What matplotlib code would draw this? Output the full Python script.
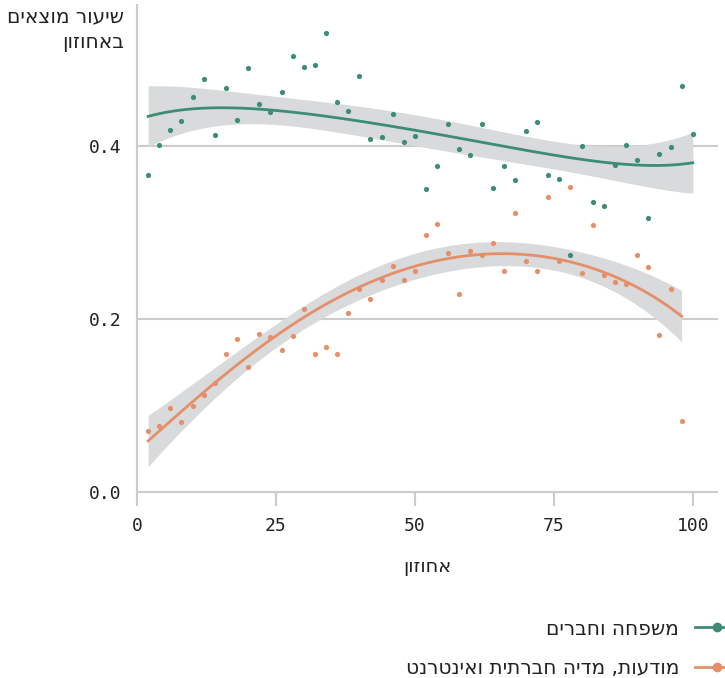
import numpy as np
import matplotlib.pyplot as plt
from matplotlib.lines import Line2D

# אחוזון ושיעור המוצאים בכל אחוזון
ahuzon_mishpaha = [2, 4, 6, 8, 10, 12, 14, 16, 18, 20, 22, 24, 26, 28, 30, 32, 34, 36, 38, 40,
                   42, 44, 46, 48, 50, 52, 54, 56, 58, 60, 62, 64, 66, 68, 70, 72, 74, 76, 78, 80,
                   82, 84, 86, 88, 90, 92, 94, 96, 98, 100]
shiur_mishpaha = [0.366, 0.401, 0.418, 0.429, 0.457, 0.477, 0.413, 0.467, 0.430, 0.490,
                  0.448, 0.439, 0.463, 0.504, 0.491, 0.494, 0.531, 0.451, 0.440, 0.481,
                  0.408, 0.410, 0.437, 0.405, 0.411, 0.350, 0.377, 0.425, 0.397, 0.390,
                  0.426, 0.352, 0.377, 0.361, 0.417, 0.428, 0.366, 0.362, 0.274, 0.400,
                  0.335, 0.331, 0.378, 0.401, 0.384, 0.317, 0.391, 0.399, 0.469, 0.414]

ahuzon_media = [2, 4, 6, 8, 10, 12, 14, 16, 18, 20, 22, 24, 26, 28, 30, 32, 34, 36, 38, 40,
                42, 44, 46, 48, 50, 52, 54, 56, 58, 60, 62, 64, 66, 68, 70, 72, 74, 76, 78, 80,
                82, 84, 86, 88, 90, 92, 94, 96, 98]
shiur_media = [0.071, 0.076, 0.097, 0.081, 0.099, 0.112, 0.126, 0.160, 0.177, 0.145,
               0.183, 0.179, 0.164, 0.180, 0.212, 0.160, 0.168, 0.160, 0.207, 0.235,
               0.223, 0.245, 0.261, 0.245, 0.256, 0.297, 0.310, 0.276, 0.229, 0.279,
               0.274, 0.288, 0.255, 0.322, 0.267, 0.255, 0.341, 0.267, 0.353, 0.253,
               0.309, 0.251, 0.243, 0.240, 0.274, 0.260, 0.182, 0.235, 0.082]

shemot = ["משפחה וחברים", "מודעות, מדיה חברתית ואינטרנט"]
tzvaim = ["#3d8c74", "#e48f6a"]
x_ticks = [0, 25, 50, 75, 100]
y_ticks = [0.0, 0.2, 0.4]


def rtl(t):
    # matplotlib לא הופך טקסט עברי, אז הופכים ידנית
    return "\n".join(line[::-1] for line in t.split("\n"))


def loess(x, y, xs, span=1.25, deg=2):
    # loess מקומי (tricube), מחזיר קו מוחלק ושגיאת תקן
    x = np.asarray(x, float)
    y = np.asarray(y, float)
    n = len(x)

    def rows(points):
        L = np.zeros((len(points), n))
        for i, x0 in enumerate(points):
            d = np.abs(x - x0)
            if span <= 1:
                h = np.sort(d)[int(np.floor(n * span)) - 1]
            else:
                h = (x.max() - x.min()) * span
            w = np.clip(1 - (d / h) ** 3, 0, None) ** 3
            X = np.vander(x - x0, deg + 1, increasing=True)
            W = np.diag(w)
            L[i] = np.linalg.solve(X.T @ W @ X, X.T @ W)[0]
        return L

    L_data = rows(x)
    res = y - L_data @ y
    M = np.eye(n) - L_data
    s = np.sqrt(np.sum(res ** 2) / np.trace(M.T @ M))
    L_grid = rows(xs)
    return L_grid @ y, s * np.sqrt(np.sum(L_grid ** 2, axis=1))


plt.rcParams['font.family'] = ['DejaVu Sans']
fig = plt.figure(figsize=(7.25, 6.78), dpi=100)
ax = fig.add_axes([0.189, 0.254, 0.801, 0.7386])

for xs_data, ys_data, c in [(ahuzon_mishpaha, shiur_mishpaha, tzvaim[0]),
                            (ahuzon_media, shiur_media, tzvaim[1])]:
    grid = np.linspace(min(xs_data), max(xs_data), 200)
    fit, se = loess(xs_data, ys_data, grid)
    ax.fill_between(grid, fit - 2.01 * se, fit + 2.01 * se, color="#d9dadb", lw=0, zorder=1)
    ax.plot(grid, fit, color=c, lw=2, zorder=3)
    ax.scatter(xs_data, ys_data, s=14, color=c, lw=0, zorder=4)

ax.set_xlim(0, 104.5)
ax.set_ylim(-0.016, 0.563)
ax.set_xticks(x_ticks)
ax.set_yticks(y_ticks)
ax.set_yticklabels([f"{v:.1f}" for v in y_ticks])

# קווי רשת אופקיים בלבד
for v in y_ticks:
    ax.axhline(v, color="#cccccc", lw=1.5, zorder=0)

for side in ["top", "right"]:
    ax.spines[side].set_visible(False)
ax.spines["bottom"].set_position(("data", 0))
ax.spines["bottom"].set_visible(False)
ax.spines["left"].set_color("#cccccc")
ax.spines["left"].set_linewidth(1.5)
ax.spines["left"].set_bounds(0, 0.563)

ax.tick_params(axis="x", length=10, width=1.5, color="#cccccc", pad=8,
               labelsize=13, labelcolor="#222222")
ax.tick_params(axis="y", length=0, pad=11, labelsize=13, labelcolor="#222222")
for lab in ax.get_xticklabels() + ax.get_yticklabels():
    lab.set_family("DejaVu Sans Mono")

ax.set_xlabel(rtl("אחוזון"), fontsize=14, color="#222222", labelpad=16)
fig.text(124 / 725, 1 - 7 / 678, rtl("שיעור מוצאים\nבאחוזון"), ha="right", va="top",
         fontsize=14.5, color="#222222", linespacing=1.45, multialignment="right")

handles = [Line2D([], [], color=c, lw=2, marker="o", markersize=6) for c in tzvaim]
fig.legend(handles, [rtl(t) for t in shemot], loc="upper right",
           bbox_to_anchor=(1.045, 0.113), frameon=False, markerfirst=False,
           fontsize=14.5, labelspacing=1.0, handlelength=2.2, handletextpad=0.8,
           labelcolor="#222222")

fig.savefig("out.png", dpi=100)
